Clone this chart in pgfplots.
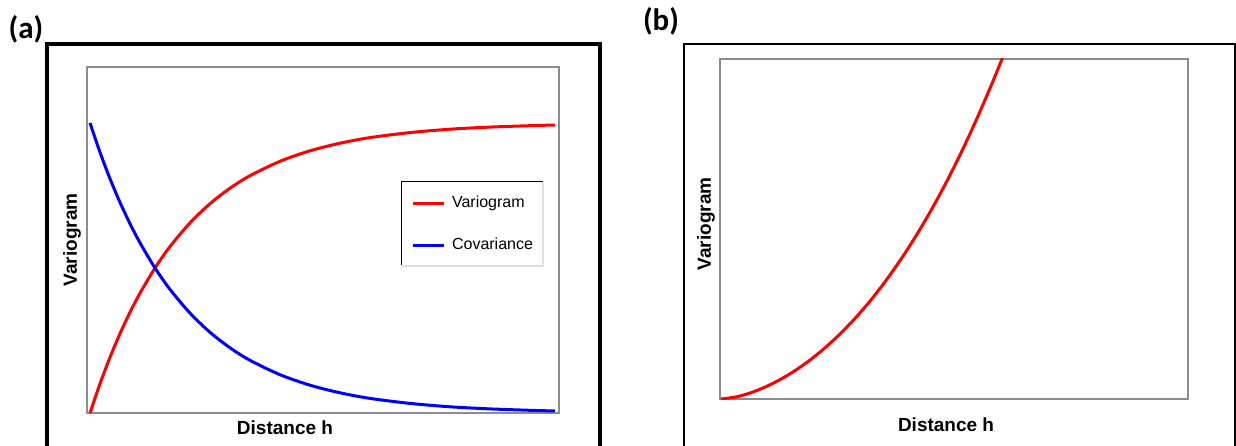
\documentclass[border=0pt]{standalone}
\usepackage{fontspec}
\setmainfont{Liberation Sans}
\newfontfamily\panelfont{Carlito}
\usepackage{pgfplots}
\pgfplotsset{compat=1.18}

\definecolor{boxgray}{RGB}{140,140,140}

\pgfplotsset{
  panel/.style={
    scale only axis,
    anchor=south west,
    xtick=\empty, ytick=\empty,
    axis line style={boxgray, line width=1pt},
    xlabel={\bfseries Distance h},
    ylabel={\bfseries Variogram},
    label style={font=\fontsize{9.5}{11}\selectfont},
  },
}

\begin{document}
\begin{tikzpicture}[x=0.5pt,y=0.5pt]
  \useasboundingbox (0,0) rectangle (1236,445);

  % outer frames of both panels
  \draw[line width=1.75pt] (47,-5) -- (47,401) -- (600,401) -- (600,-5);
  \draw[line width=1.25pt] (684,-5) -- (684,401) -- (1235,401) -- (1235,-5);

  \node[font=\panelfont\bfseries\fontsize{15.5}{17}\selectfont] at (26,416) {(a)};
  \node[font=\panelfont\bfseries\fontsize{15.5}{17}\selectfont] at (661,424) {(b)};

  % (a) exponential variogram and covariance
  \begin{axis}[panel,
      at={(87,32)}, width=236pt, height=173pt,
      xmin=0, xmax=472, ymin=0, ymax=346,
      xlabel style={at={(axis description cs:0.4195,-0.0434)}, anchor=center},
      ylabel style={at={(axis description cs:-0.0318,0.5)}, anchor=center},
      legend style={at={(0.8157,0.5462)}, anchor=center, draw=none, fill=none,
        font=\fontsize{8}{9}\selectfont, row sep=13.5pt,
        nodes={inner sep=0pt, text height=6pt, text depth=1.5pt},
        /tikz/every odd column/.append style={column sep=3.5pt}},
      legend cell align=left,
      legend image code/.code={\draw[#1] (0pt,0pt) -- (15.5pt,0pt);},
    ]
    \addplot[red, line width=1.5pt, smooth] coordinates {
      (3,0) (13,29.3) (23,55.7) (33,79.4) (43,100.7) (53,119.8) (68,145)
      (83,166.4) (103,190.1) (123,209.3) (143,224.8) (163,237.3) (193,251.7)
      (223,262.2) (253,269.8) (283,275.4) (323,280.4) (363,283.8) (403,285.9)
      (443,287.3) (468,288.0)};
    \addlegendentry{Variogram}
    \addplot[blue, line width=1.5pt, smooth] coordinates {
      (3,290) (13,260.7) (23,234.3) (33,210.6) (43,189.3) (53,170.2) (68,145)
      (83,123.6) (103,99.9) (123,80.7) (143,65.2) (163,52.7) (193,38.3)
      (223,27.8) (253,20.2) (283,14.6) (323,9.6) (363,6.2) (403,4.1)
      (443,2.7) (468,2.0)};
    \addlegendentry{Covariance}
    % legend frame: dark top/left edges, pale bottom/right edges
    \draw[black, line width=0.5pt] (axis cs:314,147) -- (axis cs:314,231) -- (axis cs:456,231);
    \draw[black!12, line width=0.6pt] (axis cs:456,231) -- (axis cs:456,147) -- (axis cs:314,147);
  \end{axis}

  % (b) unbounded (power-type) variogram
  \begin{axis}[panel,
      at={(720,46)}, width=234pt, height=170pt,
      xmin=0, xmax=468, ymin=0, ymax=340,
      xlabel style={at={(axis description cs:0.483,-0.0765)}, anchor=center},
      ylabel style={at={(axis description cs:-0.030,0.515)}, anchor=center},
    ]
    \addplot[red, line width=1.5pt, smooth] coordinates {
      (1,0) (16,2.06) (31,6.32) (46,12.32) (61,19.89) (76,29.02) (91,39.73)
      (106,52.06) (121,66.03) (136,81.69) (151,99.14) (166,118.57)
      (181,139.87) (196,163.19) (211,188.62) (226,216.20) (241,246.13)
      (256,278.44) (271,313.14) (282,340) (291,363.5)};
  \end{axis}
\end{tikzpicture}
\end{document}
